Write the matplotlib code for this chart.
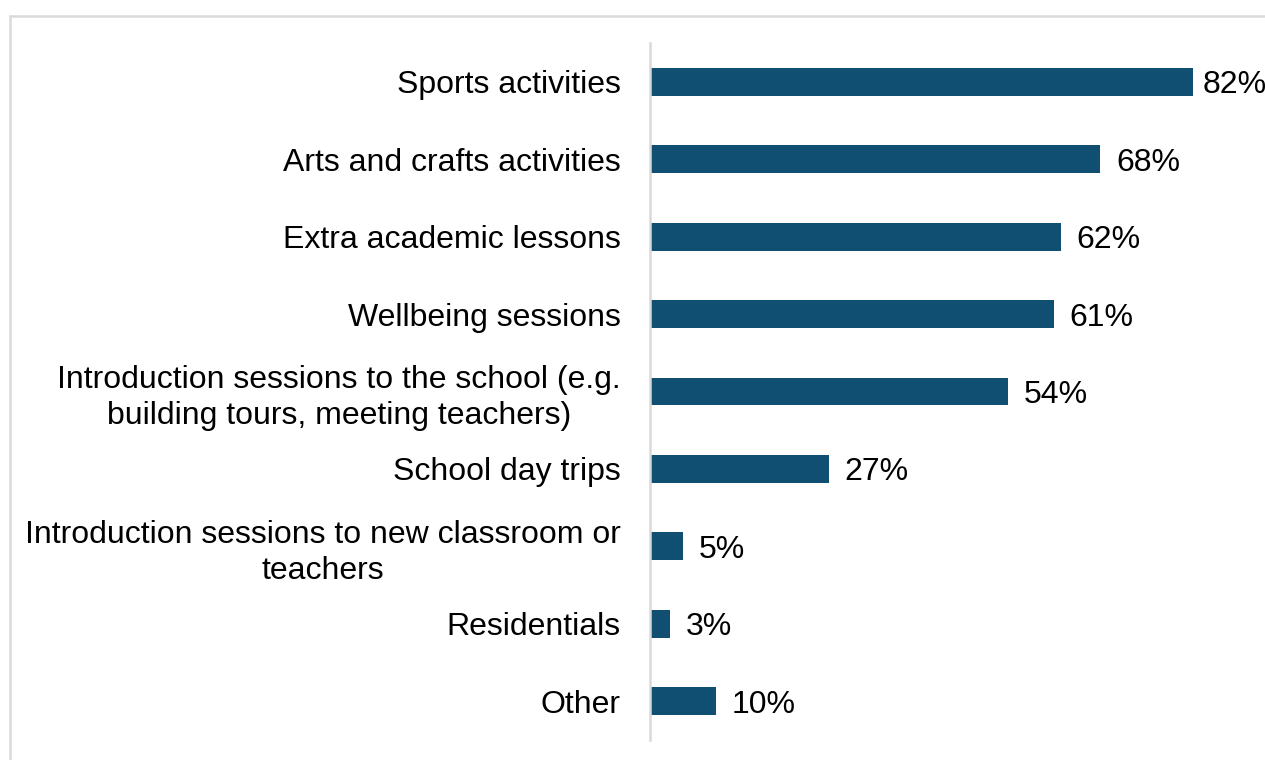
import matplotlib.pyplot as plt
from matplotlib.patches import Rectangle

categories = [
    "Sports activities",
    "Arts and crafts activities",
    "Extra academic lessons",
    "Wellbeing sessions",
    "Introduction sessions to the school (e.g.\nbuilding tours, meeting teachers)",
    "School day trips",
    "Introduction sessions to new classroom or\nteachers",
    "Residentials",
    "Other",
]
percentages = [82, 68, 62, 61, 54, 27, 5, 3, 10]

BAR_COLOR = "#114f72"
GRID_GREY = "#d9d9d9"

plt.rcParams['font.family'] = ['Liberation Sans', 'DejaVu Sans']

fig = plt.figure(figsize=(12.65, 7.6), dpi=100)
ax = fig.add_axes([650 / 1265, 20 / 760, 596 / 1265, 697 / 760])

# light frame around the chart area, running off the right and bottom edges
fig.patches.append(Rectangle((9.5 / 1265, -0.05), 1.1, (760 - 15.5) / 760 + 0.05,
                             transform=fig.transFigure, fill=False,
                             edgecolor=GRID_GREY, linewidth=1.8))

y = list(range(len(categories)))
bars = ax.barh(y, percentages, height=0.36, color=BAR_COLOR)

# value labels sit just past the bar end, pulled in so the longest stays on the canvas
for bar, val in zip(bars, percentages):
    ax.text(min(bar.get_width() + 2.4, 83.5), bar.get_y() + bar.get_height() / 2,
            f"{val}%", va='center_baseline', ha='left', fontsize=23, color='black')

ax.set_xlim(0, 90)
ax.set_ylim(len(categories) - 0.5, -0.5)
ax.set_yticks(y)
ax.set_yticklabels(categories, fontsize=23)
for lbl in ax.get_yticklabels():
    lbl.set_multialignment('center')
    lbl.set_linespacing(1.27)
ax.tick_params(axis='y', length=0, pad=21)
ax.set_xticks([])

for side in ['top', 'right', 'bottom']:
    ax.spines[side].set_visible(False)
ax.spines['left'].set_color(GRID_GREY)
ax.spines['left'].set_linewidth(1.8)

fig.savefig("out.png", dpi=100)
